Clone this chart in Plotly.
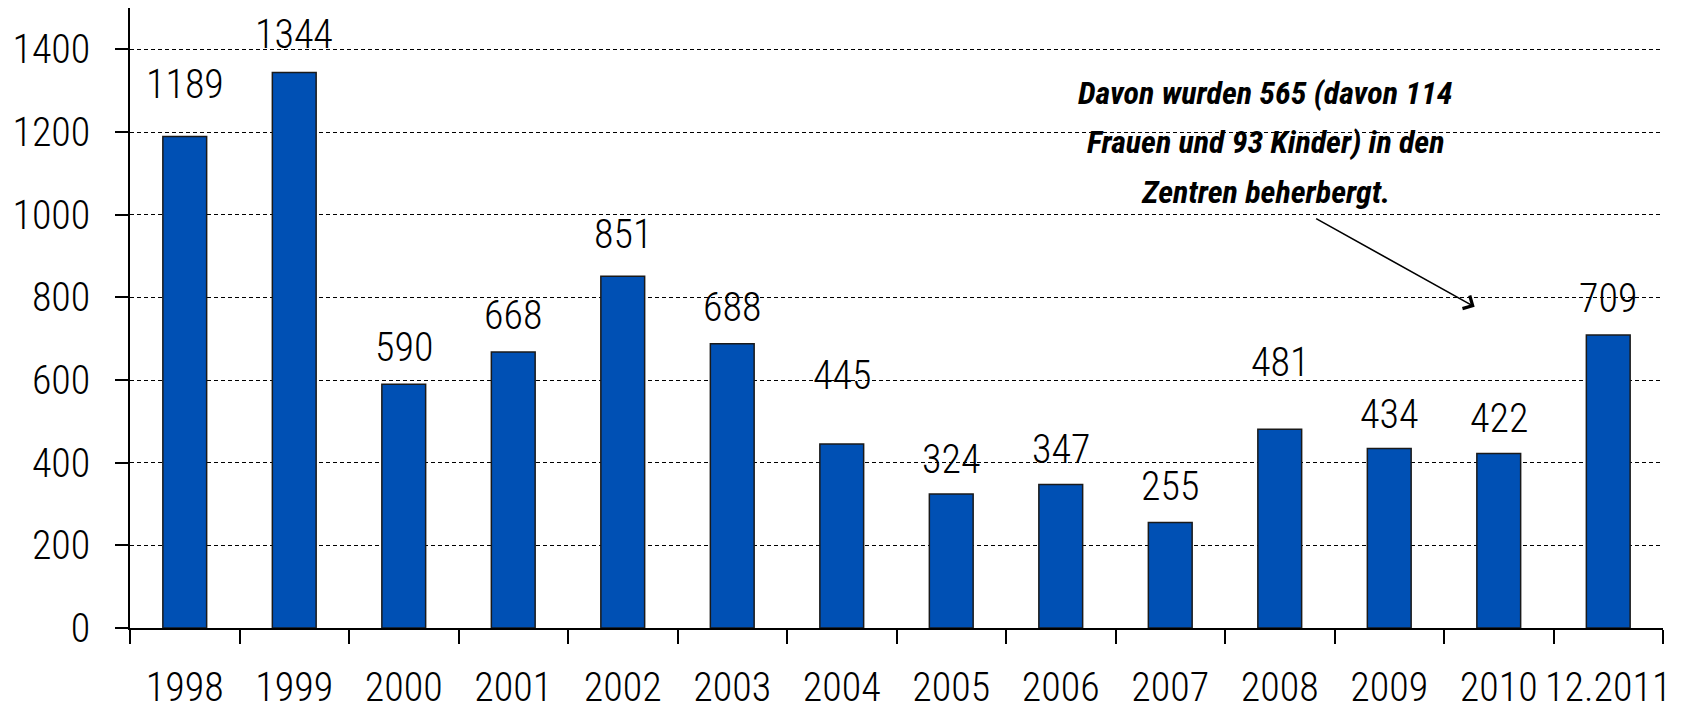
import plotly.graph_objects as go

categories = ["1998", "1999", "2000", "2001", "2002", "2003", "2004", "2005",
              "2006", "2007", "2008", "2009", "2010", "12.2011"]
values = [1189, 1344, 590, 668, 851, 688, 445, 324, 347, 255, 481, 434, 422, 709]
y_ticks = [0, 200, 400, 600, 800, 1000, 1200, 1400]
note_lines = ["Davon wurden 565 (davon 114", "Frauen und 93 Kinder) in den",
              "Zentren beherbergt."]

# per-label vertical gap (px) between bar top and label (style)
label_gap = [36, 21, 20, 20, 25, 20, 52, 18, 19, 20, 50, 18, 19, 20]

FONT = "Roboto Condensed, Liberation Sans Narrow, Arial Narrow, sans-serif"
BLUE = "#0050B4"
NUM_FONT = dict(family=FONT, size=40, color="black", weight=300)

fig = go.Figure()
fig.add_trace(go.Bar(
    x=list(range(len(categories))), y=values,
    marker=dict(color=BLUE, line=dict(color="#1a1a1a", width=1.5)),
    hovertext=categories, hoverinfo="text+y",
))

annotations = []
for i, (v, g) in enumerate(zip(values, label_gap)):
    annotations.append(dict(
        x=i, y=v, xref="x", yref="y", text=str(v), showarrow=False,
        yanchor="bottom", yshift=g - 9, font=NUM_FONT,
    ))

line_y = [0.863, 0.784, 0.703]
for t, yy in zip(note_lines, line_y):
    annotations.append(dict(
        x=0.741, y=yy, xref="paper", yref="paper", text="<b><i>" + t + "</i></b>",
        showarrow=False, xanchor="center", yanchor="middle",
        font=dict(family=FONT, size=32, color="black"),
    ))

# arrow from note to last bar
annotations.append(dict(
    x=11.78, y=777, xref="x", yref="y", ax=-160, ay=-89,
    text="", showarrow=True, arrowhead=4, arrowsize=1.8, arrowwidth=1.6,
    arrowcolor="black", standoff=0, startstandoff=0,
))

fig.update_layout(
    width=1686, height=712,
    margin=dict(l=130, r=23, t=8, b=84),
    paper_bgcolor="white", plot_bgcolor="white",
    bargap=0.6, showlegend=False,
    font=dict(family=FONT, size=40, color="black"),
    annotations=annotations,
)
fig.update_xaxes(
    tickmode="array", tickvals=list(range(len(categories))), ticktext=categories,
    showline=True, linecolor="black", linewidth=1.5,
    ticks="", showgrid=False, range=[-0.5, len(categories) - 0.5],
    tickangle=0, automargin=False, ticklabelstandoff=23,
    tickfont=NUM_FONT,
    minor=dict(tickvals=[i - 0.5 for i in range(len(categories) + 1)], ticks="outside",
               ticklen=14, tickwidth=1.5, tickcolor="black", showgrid=False),
    zeroline=False,
)
fig.update_yaxes(
    range=[0, 1500], tickvals=y_ticks, showline=True, linecolor="black", linewidth=1.5,
    ticks="outside", ticklen=13, tickwidth=1.5, tickcolor="black",
    ticklabelstandoff=17, automargin=False,
    showgrid=True, gridcolor="black", gridwidth=1, griddash="4px,3px",
    zeroline=False,
    tickfont=NUM_FONT,
)

fig.write_html("out.html", config={"displayModeBar": False},
               post_script="document.body.style.margin='0';")
